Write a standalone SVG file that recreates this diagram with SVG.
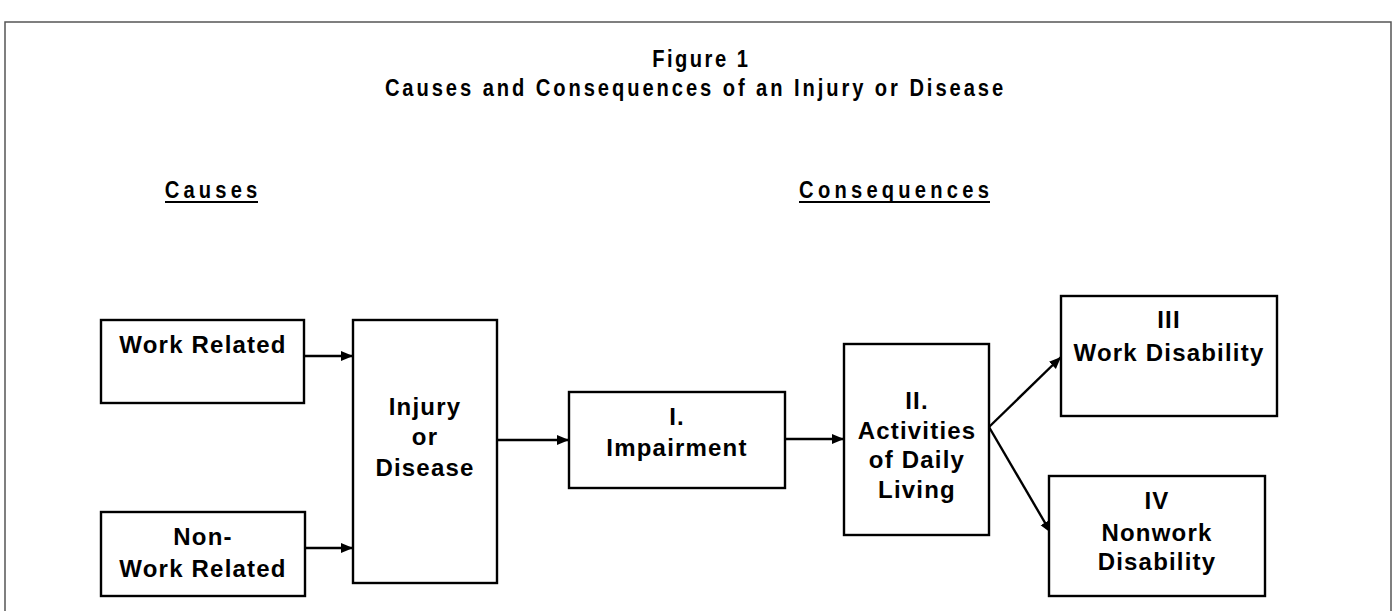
<svg xmlns="http://www.w3.org/2000/svg" width="1397" height="611" viewBox="0 0 1397 611">
  <defs>
    <marker id="arrow" markerUnits="userSpaceOnUse" markerWidth="13" markerHeight="11" refX="12" refY="5" orient="auto">
      <path d="M0,0 L12,5 L0,10 z" fill="#000"/>
    </marker>
    <style>
      .box { fill: #fff; stroke: #000; stroke-width: 2.4; }
      .t { font-family: "Liberation Sans", Arial, sans-serif; font-weight: bold; font-size: 24px; letter-spacing: 1.2px; text-anchor: middle; fill: #000; }
      .title { font-family: "Liberation Sans", Arial, sans-serif; font-weight: bold; font-size: 24px; text-anchor: middle; fill: #000; }
      .ul { stroke: #000; stroke-width: 2; }
      .conn { stroke: #000; stroke-width: 2.4; fill: none; marker-end: url(#arrow); }
    </style>
  </defs>
  <rect width="1397" height="611" fill="#fff"/>
  <path d="M5,611 L5,22 L1391,22 L1391,611" fill="none" stroke="#555" stroke-width="1.5"/>

  <g id="title">
    <g transform="translate(700,0) scale(0.84,1)">
      <text class="title" x="0" y="67" textLength="114" lengthAdjust="spacing">Figure 1</text>
    </g>
    <g transform="translate(694,0) scale(0.84,1)">
      <text class="title" x="0" y="96" textLength="736" lengthAdjust="spacing">Causes and Consequences of an Injury or Disease</text>
    </g>
  </g>
  <g id="headings">
    <g transform="translate(211,0) scale(0.84,1)">
      <text class="title" x="0" y="198" textLength="110" lengthAdjust="spacing">Causes</text>
    </g>
    <line class="ul" x1="165" y1="202" x2="258" y2="202"/>
    <g transform="translate(894,0) scale(0.84,1)">
      <text class="title" x="0" y="198" textLength="226" lengthAdjust="spacing">Consequences</text>
    </g>
    <line class="ul" x1="799" y1="202" x2="990" y2="202"/>
  </g>

  <g id="connectors">
    <line class="conn" x1="305" y1="356" x2="353" y2="356"/>
    <line class="conn" x1="305" y1="548" x2="353" y2="548"/>
    <line class="conn" x1="497" y1="440" x2="569" y2="440"/>
    <line class="conn" x1="785" y1="439" x2="844" y2="439"/>
    <line class="conn" x1="989" y1="427" x2="1061" y2="357"/>
    <line class="conn" x1="989" y1="427" x2="1051" y2="533"/>
  </g>

  <g id="work-related">
    <rect class="box" x="101" y="320" width="203" height="83"/>
    <text class="t" x="203" y="353">Work Related</text>
  </g>
  <g id="non-work-related">
    <rect class="box" x="101" y="512" width="204" height="84"/>
    <text class="t" x="203" y="545">Non-</text>
    <text class="t" x="203" y="577">Work Related</text>
  </g>
  <g id="injury-disease">
    <rect class="box" x="353" y="320" width="144" height="263"/>
    <text class="t" x="425" y="415">Injury</text>
    <text class="t" x="425" y="445">or</text>
    <text class="t" x="425" y="476">Disease</text>
  </g>
  <g id="impairment">
    <rect class="box" x="569" y="392" width="216" height="96"/>
    <text class="t" x="677" y="425">I.</text>
    <text class="t" x="677" y="456">Impairment</text>
  </g>
  <g id="activities">
    <rect class="box" x="844" y="344" width="145" height="191"/>
    <text class="t" x="917" y="409">II.</text>
    <text class="t" x="917" y="439">Activities</text>
    <text class="t" x="917" y="468">of Daily</text>
    <text class="t" x="917" y="498">Living</text>
  </g>
  <g id="work-disability">
    <rect class="box" x="1061" y="296" width="216" height="120"/>
    <text class="t" x="1169" y="328">III</text>
    <text class="t" x="1169" y="361">Work Disability</text>
  </g>
  <g id="nonwork-disability">
    <rect class="box" x="1049" y="476" width="216" height="120"/>
    <text class="t" x="1157" y="509">IV</text>
    <text class="t" x="1157" y="541">Nonwork</text>
    <text class="t" x="1157" y="570">Disability</text>
  </g>
</svg>
